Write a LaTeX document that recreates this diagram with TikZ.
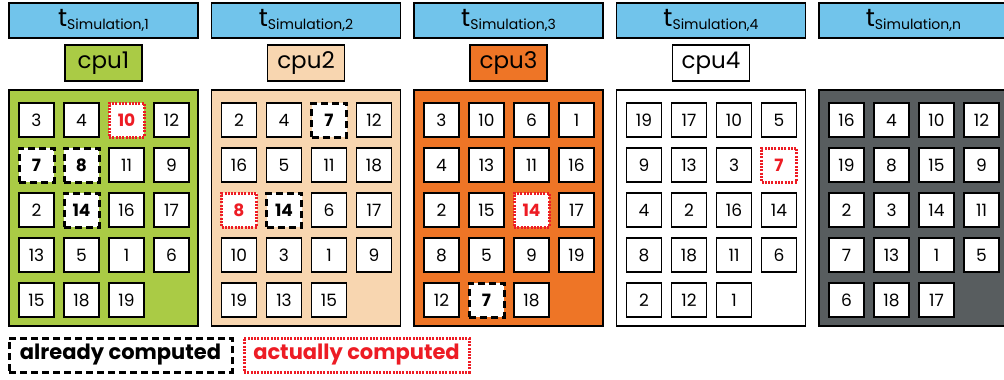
\documentclass[tikz,border=0pt]{standalone}
\usepackage{fontspec}
\setmainfont{Poppins}
\definecolor{simblue}{RGB}{113,196,235}
\definecolor{cpugreen}{RGB}{170,203,69}
\definecolor{cpupeach}{RGB}{248,214,176}
\definecolor{cpuorange}{RGB}{238,117,38}
\definecolor{cpugray}{RGB}{88,93,95}
\definecolor{simred}{RGB}{237,28,36}
\tikzset{
	headbox/.style={draw=black, fill=simblue, line width=1.8pt, minimum width=189pt, minimum height=35pt, inner sep=0pt},
	cpubox/.style={draw=black, line width=1.8pt, minimum width=77pt, minimum height=36pt, inner sep=0pt, font=\fontsize{23}{23}\selectfont},
	panelbox/.style={draw=black, line width=1.8pt, minimum width=189pt, minimum height=236pt, inner sep=0pt},
	plaincell/.style={draw=black, fill=white, line width=1.8pt, minimum width=35pt, minimum height=34pt, inner sep=0pt, font=\fontsize{17}{17}\selectfont},
	donecell/.style={plaincell, line width=3pt, dash pattern=on 7pt off 4pt, font=\fontsize{17}{17}\selectfont\bfseries},
	newcell/.style={plaincell, draw=simred, text=simred, line width=3pt, dash pattern=on 2pt off 1.3pt, font=\fontsize{17}{17}\selectfont\bfseries},
}
\newcommand{\simtime}[1]{{\fontsize{25}{25}\selectfont t}\raisebox{-3pt}{\fontsize{14}{14}\selectfont Simulation,#1}}
\begin{document}
\begin{tikzpicture}[x=1pt, y=-1pt]
	\useasboundingbox (0,0) rectangle (1004,380);
	%panels and cells
	\foreach \i/\fillc/\lab/\data in {
		0/cpugreen/1/{3/plaincell,4/plaincell,10/newcell,12/plaincell,7/donecell,8/donecell,11/plaincell,9/plaincell,2/plaincell,14/donecell,16/plaincell,17/plaincell,13/plaincell,5/plaincell,1/plaincell,6/plaincell,15/plaincell,18/plaincell,19/plaincell},
		1/cpupeach/2/{2/plaincell,4/plaincell,7/donecell,12/plaincell,16/plaincell,5/plaincell,11/plaincell,18/plaincell,8/newcell,14/donecell,6/plaincell,17/plaincell,10/plaincell,3/plaincell,1/plaincell,9/plaincell,19/plaincell,13/plaincell,15/plaincell},
		2/cpuorange/3/{3/plaincell,10/plaincell,6/plaincell,1/plaincell,4/plaincell,13/plaincell,11/plaincell,16/plaincell,2/plaincell,15/plaincell,14/newcell,17/plaincell,8/plaincell,5/plaincell,9/plaincell,19/plaincell,12/plaincell,7/donecell,18/plaincell},
		3/white/4/{19/plaincell,17/plaincell,10/plaincell,5/plaincell,9/plaincell,13/plaincell,3/plaincell,7/newcell,4/plaincell,2/plaincell,16/plaincell,14/plaincell,8/plaincell,18/plaincell,11/plaincell,6/plaincell,2/plaincell,12/plaincell,1/plaincell},
		4/cpugray/n/{16/plaincell,4/plaincell,10/plaincell,12/plaincell,19/plaincell,8/plaincell,15/plaincell,9/plaincell,2/plaincell,3/plaincell,14/plaincell,11/plaincell,7/plaincell,13/plaincell,1/plaincell,5/plaincell,6/plaincell,18/plaincell,17/plaincell}}
	{
		\node[headbox] (h\i) at (103.5+202.5*\i,20.5) {\simtime{\lab}};
		\node[panelbox, fill=\fillc] (p\i) at (103.5+202.5*\i,208) {};
		\foreach \v/\s [count=\k from 0] in \data {
			\pgfmathtruncatemacro\rr{\k/4}
			\pgfmathtruncatemacro\cc{mod(\k,4)}
			\node[\s] (c\i-\k) at (36.5+202.5*\i+45*\cc,120+45*\rr) {\v};
		}
	}
	%cpu labels
	\foreach \i/\fillc in {0/cpugreen,1/cpupeach,2/cpuorange,3/white}
	\node[cpubox, fill=\fillc] (cpu\i) at (103.5+202.5*\i,63) {cpu\pgfmathparse{int(\i+1)}\pgfmathresult};
	%legend
	\node[plaincell, donecell, minimum width=223pt, font=\fontsize{21}{21}\selectfont\bfseries] (done) at (120.5,355) {already computed};
	\node[plaincell, newcell, minimum width=225pt, font=\fontsize{21}{21}\selectfont\bfseries] (new) at (356.5,355) {actually computed};
\end{tikzpicture}
\end{document}
